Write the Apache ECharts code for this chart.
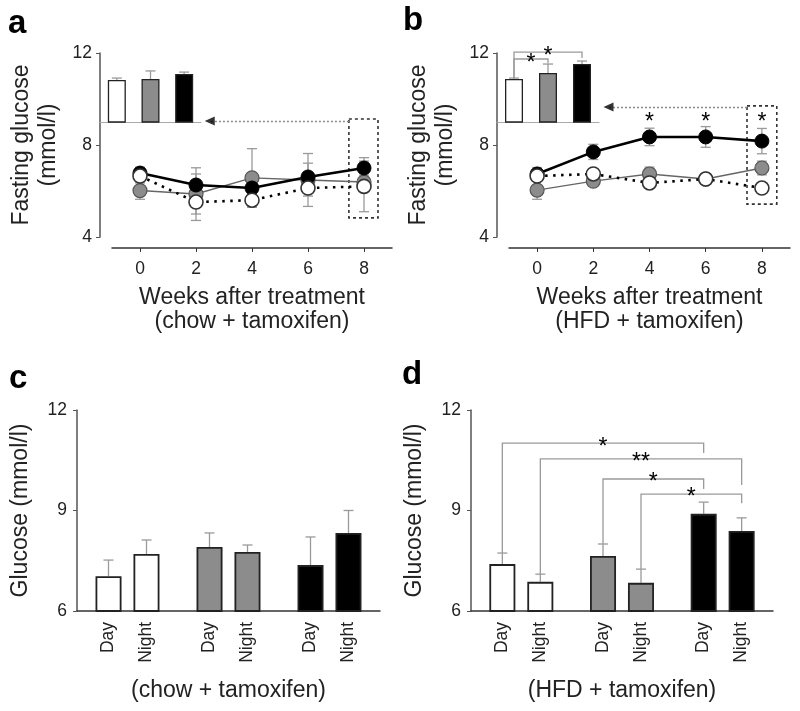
<!DOCTYPE html>
<html><head><meta charset="utf-8">
<script src="https://cdn.jsdelivr.net/npm/echarts@6/dist/echarts.min.js"></script>
<style>html,body{margin:0;padding:0;background:#fff}#c{width:800px;height:711px}</style>
</head><body><div id="c"></div>
<script>
// ---------- data ----------
const weeks = [0, 2, 4, 6, 8];
// panel a (chow + tamoxifen): fasting glucose, mmol/l
const aBlack = [6.78, 6.26, 6.13, 6.61, 7.00];
const aBlackErr = [0.25, 0.75, 0.30, 0.60, 0.45];
const aGray = [6.02, 5.87, 6.57, 6.48, 6.39];
const aGrayErr = [0.38, 0.87, 1.27, 1.15, 0.30];
const aWhite = [6.65, 5.52, 5.60, 6.13, 6.20];
const aWhiteErr = [0.30, 0.80, 0.30, 0.35, 1.10];
const aInset = [10.83, 10.87, 11.09];
const aInsetErr = [0.08, 0.35, 0.08];
// panel b (HFD + tamoxifen)
const bBlack = [6.74, 7.70, 8.35, 8.35, 8.17];
const bBlackErr = [0.28, 0.33, 0.38, 0.45, 0.55];
const bGray = [6.04, 6.43, 6.74, 6.52, 7.00];
const bGrayErr = [0.40, 0.20, 0.30, 0.20, 0.30];
const bWhite = [6.65, 6.74, 6.35, 6.52, 6.13];
const bWhiteErr = [0.20, 0.20, 0.20, 0.20, 0.20];
const bInset = [10.87, 11.13, 11.52];
const bInsetErr = [0.04, 0.39, 0.13];
const bStarWeeks = [4, 6, 8];
const bStarLevel = 9.17;
const bInsetSigTo = [1, 2];
const bInsetSigLevel = [11.74, 12.04];
const bInsetSigRight = [11.55, 11.78];
const bInsetSigLabel = ['*', '*'];
// panels c / d: day & night glucose
const groups = ['1', '2', '3'];
const periods = ['Day', 'Night'];
const cDay = [7.04, 7.91, 7.37];
const cDayErr = [0.48, 0.42, 0.84];
const cNight = [7.70, 7.76, 8.33];
const cNightErr = [0.42, 0.21, 0.67];
const dDay = [7.40, 7.64, 8.90];
const dDayErr = [0.33, 0.36, 0.35];
const dNight = [6.87, 6.84, 8.39];
const dNightErr = [0.23, 0.41, 0.39];
const dSigFrom = [[0, 0], [0, 1], [1, 0], [1, 1]];
const dSigTo = [[2, 0], [2, 1], [2, 0], [2, 1]];
const dSigLevel = [11.01, 10.54, 9.94, 9.49];
const dSigRight = [10.72, 9.76, 9.64, 9.22];
const dSigLabel = ['*', '**', '*', '*'];

// ---------- styles ----------
const FONT = '"Liberation Sans", Arial, Helvetica, sans-serif';
const FILL = ['#ffffff', '#8c8c8c', '#000000'];
const EDGE = '#222';
const ERR = '#9a9a9a';
const OFF = 19, BARW = 26, CAP = 5;

function errRender(upOnly, side) {
  return function (params, api) {
    const x = api.value(0), y = api.value(1), e = api.value(2);
    let hi = api.coord([x, y + e]);
    let lo = api.coord([x, upOnly ? y : y - e]);
    const dx = side ? side * OFF : 0;
    const cx = hi[0] + dx;
    const st = { stroke: ERR, lineWidth: 1.3 };
    const ch = [
      { type: 'line', shape: { x1: cx, y1: hi[1], x2: cx, y2: lo[1] }, style: st },
      { type: 'line', shape: { x1: cx - CAP, y1: hi[1], x2: cx + CAP, y2: hi[1] }, style: st }
    ];
    if (!upOnly) ch.push({ type: 'line', shape: { x1: cx - CAP, y1: lo[1], x2: cx + CAP, y2: lo[1] }, style: st });
    return { type: 'group', children: ch };
  };
}
function zip3(a, b, c) { return a.map((v, i) => [v, b[i], c[i]]); }
function errSeries(xi, yi, xs, vals, errs, upOnly, side) {
  return { type: 'custom', xAxisIndex: xi, yAxisIndex: yi, z: 1, silent: true,
    renderItem: errRender(upOnly, side), data: zip3(xs, vals, errs) };
}
function lineSeries(xi, yi, vals, kind) {
  const base = { type: 'line', xAxisIndex: xi, yAxisIndex: yi, symbol: 'circle', symbolSize: 14,
    data: weeks.map((w, i) => [w, vals[i]]), z: 3, silent: true };
  if (kind === 'black') {
    base.lineStyle = { color: '#000', width: 2.6 };
    base.itemStyle = { color: '#000', borderColor: '#000', borderWidth: 1 };
  } else if (kind === 'gray') {
    base.lineStyle = { color: '#666', width: 1.4 };
    base.itemStyle = { color: FILL[1], borderColor: '#555', borderWidth: 1.2 };
  } else {
    base.lineStyle = { color: '#000', width: 2.6, type: [2.5, 5.5] };
    base.itemStyle = { color: '#fff', borderColor: '#333', borderWidth: 1.6 };
    base.z = 4;
  }
  return base;
}
function insetBars(xi, yi, vals) {
  return { type: 'bar', xAxisIndex: xi, yAxisIndex: yi, barWidth: 18, silent: true, z: 2,
    data: vals.map((v, i) => ({ value: v, itemStyle: { color: FILL[i], borderColor: EDGE, borderWidth: 1.3 } })) };
}
function dnBars(xi, yi, vals, p) {
  return { type: 'bar', xAxisIndex: xi, yAxisIndex: yi, barWidth: BARW, barGap: '46%', silent: true, z: 2,
    name: periods[p],
    data: vals.map((v, i) => ({ value: v, itemStyle: { color: FILL[i], borderColor: EDGE, borderWidth: 1.8 } })) };
}
function dnLabels(xi, yi, p) {
  return { type: 'custom', xAxisIndex: xi, yAxisIndex: yi, silent: true,
    data: groups.map((g, i) => [i, 6]),
    renderItem: (params, api) => {
      const c = api.coord([api.value(0), 6]);
      return { type: 'text', x: c[0] + (p ? OFF : -OFF), y: c[1] + 11, rotation: Math.PI / 2,
        style: { text: periods[p], font: '17.5px ' + FONT, fill: '#222', align: 'right', verticalAlign: 'middle' } };
    } };
}
function starText(x, y, label) {
  return { type: 'text', x: x, y: y + 5,
    style: { text: label, font: '23px ' + FONT, fill: '#000', align: 'center', verticalAlign: 'middle' } };
}
const dVals = [dDay, dNight], dErrs = [dDayErr, dNightErr];

function lineXAxis(gi, name) {
  return { gridIndex: gi, type: 'value', min: -1, max: 9, offset: 11,
    axisLine: { show: true, onZero: false, lineStyle: { color: '#333', width: 1.5 } },
    axisTick: { show: true, customValues: weeks, length: 4, lineStyle: { color: '#333' } },
    axisLabel: { customValues: weeks, fontSize: 17.5, color: '#222', margin: 12, fontFamily: FONT },
    splitLine: { show: false },
    name: name, nameLocation: 'middle', nameGap: 38,
    nameTextStyle: { fontSize: 23, lineHeight: 24, color: '#222', fontFamily: FONT } };
}
function lineYAxis(gi) {
  return { gridIndex: gi, type: 'value', min: 4, max: 12, interval: 4, offset: 12,
    axisLine: { show: true, onZero: false, lineStyle: { color: '#555', width: 1.5 } },
    axisTick: { show: true, length: 4, lineStyle: { color: '#555' } },
    axisLabel: { fontSize: 17.5, color: '#222', margin: 8, fontFamily: FONT },
    splitLine: { show: false },
    name: 'Fasting glucose\n(mmol/l)', nameLocation: 'middle', nameRotate: 90, nameGap: 38,
    nameTextStyle: { fontSize: 23, lineHeight: 27, color: '#222', fontFamily: FONT } };
}
function insetXAxis(gi) {
  return { gridIndex: gi, type: 'category', data: groups,
    axisLine: { show: true, onZero: false, lineStyle: { color: '#aaa', width: 1.2 } },
    axisTick: { show: false }, axisLabel: { show: false } };
}
function insetYAxis(gi) {
  return { gridIndex: gi, type: 'value', min: 9, max: 12, show: false };
}
function barXAxis(gi, name) {
  return { gridIndex: gi, type: 'category', data: groups,
    axisLine: { show: true, onZero: false, lineStyle: { color: '#333', width: 1.5 } },
    axisTick: { show: false }, axisLabel: { show: false },
    name: name, nameLocation: 'middle', nameGap: 68,
    nameTextStyle: { fontSize: 23, color: '#222', fontFamily: FONT } };
}
function barYAxis(gi) {
  return { gridIndex: gi, type: 'value', min: 6, max: 12, interval: 3,
    axisLine: { show: true, onZero: false, lineStyle: { color: '#555', width: 1.5 } },
    axisTick: { show: true, length: 4, lineStyle: { color: '#555' } },
    axisLabel: { fontSize: 17.5, color: '#222', margin: 10, fontFamily: FONT },
    splitLine: { show: false },
    name: 'Glucose (mmol/l)', nameLocation: 'middle', nameRotate: 90, nameGap: 45,
    nameTextStyle: { fontSize: 23, color: '#222', fontFamily: FONT } };
}
function boxAndArrow(xi, yi, box, arrowY, tipX) {
  return { type: 'line', xAxisIndex: xi, yAxisIndex: yi, data: [], silent: true, symbol: 'none',
    markArea: { silent: true, itemStyle: { color: 'rgba(0,0,0,0)', borderColor: '#333', borderWidth: 1.6, borderType: [3, 3] },
      data: [[{ coord: [box[0], box[3]] }, { coord: [box[1], box[2]] }]] },
    markLine: { silent: true, symbol: ['none', 'none'], label: { show: false }, animation: false,
      lineStyle: { color: '#888', width: 1.3, type: [2, 2] },
      data: [[{ coord: [box[0], arrowY] }, { coord: [tipX + 0.2, arrowY] }]] } };
}
function arrowHead(xi, yi, arrowY, tipX) {
  return { type: 'scatter', xAxisIndex: xi, yAxisIndex: yi, silent: true, z: 5,
    symbol: 'triangle', symbolSize: [9, 10], symbolRotate: 90, symbolOffset: [0, 0],
    itemStyle: { color: '#000' },
    data: [[tipX + 0.17, arrowY]] };
}

const option = {
  animation: false,
  textStyle: { fontFamily: FONT },
  grid: [
    { left: 112, top: 53, width: 280, height: 184 },
    { left: 100, top: 53, width: 101, height: 69 },
    { left: 509, top: 53, width: 281, height: 184 },
    { left: 497, top: 53, width: 102, height: 69 },
    { left: 77, top: 410, width: 303, height: 201 },
    { left: 471, top: 410, width: 302, height: 201 }
  ],
  xAxis: [
    lineXAxis(0, 'Weeks after treatment\n(chow + tamoxifen)'),
    insetXAxis(1),
    lineXAxis(2, 'Weeks after treatment\n(HFD + tamoxifen)'),
    insetXAxis(3),
    barXAxis(4, '(chow + tamoxifen)'),
    barXAxis(5, '(HFD + tamoxifen)')
  ],
  yAxis: [lineYAxis(0), insetYAxis(1), lineYAxis(2), insetYAxis(3), barYAxis(4), barYAxis(5)],
  graphic: [
    { type: 'text', left: 8, top: 7, style: { text: 'a', font: 'bold 33px ' + FONT, fill: '#000' } },
    { type: 'text', left: 403, top: 4, style: { text: 'b', font: 'bold 33px ' + FONT, fill: '#000' } },
    { type: 'text', left: 9, top: 362, style: { text: 'c', font: 'bold 33px ' + FONT, fill: '#000' } },
    { type: 'text', left: 402, top: 358, style: { text: 'd', font: 'bold 33px ' + FONT, fill: '#000' } }
  ],
  series: [
    // panel a
    boxAndArrow(0, 0, [7.46, 8.5, 4.83, 9.13], 9.04, 2.32),
    arrowHead(0, 0, 9.04, 2.32),
    errSeries(0, 0, weeks, aGray, aGrayErr),
    errSeries(0, 0, weeks, aBlack, aBlackErr),
    errSeries(0, 0, weeks, aWhite, aWhiteErr),
    lineSeries(0, 0, aGray, 'gray'),
    lineSeries(0, 0, aBlack, 'black'),
    lineSeries(0, 0, aWhite, 'white'),
    insetBars(1, 1, aInset),
    errSeries(1, 1, [0, 1, 2], aInset, aInsetErr, true),
    // panel b
    boxAndArrow(2, 2, [7.47, 8.53, 5.43, 9.7], 9.65, 2.37),
    arrowHead(2, 2, 9.65, 2.37),
    errSeries(2, 2, weeks, bGray, bGrayErr),
    errSeries(2, 2, weeks, bBlack, bBlackErr),
    errSeries(2, 2, weeks, bWhite, bWhiteErr),
    lineSeries(2, 2, bGray, 'gray'),
    lineSeries(2, 2, bBlack, 'black'),
    lineSeries(2, 2, bWhite, 'white'),
    { type: 'custom', xAxisIndex: 2, yAxisIndex: 2, silent: true, z: 5,
      data: bStarWeeks.map(w => [w, bStarLevel]),
      renderItem: (params, api) => { const c = api.coord([api.value(0), api.value(1)]); return starText(c[0], c[1], '*'); } },
    insetBars(3, 3, bInset),
    errSeries(3, 3, [0, 1, 2], bInset, bInsetErr, true),
    { type: 'custom', xAxisIndex: 3, yAxisIndex: 3, silent: true, z: 5, clip: false,
      data: bInsetSigTo.map((t, i) => [t, bInsetSigLevel[i]]),
      renderItem: (params, api) => {
        const i = params.dataIndex, t = bInsetSigTo[i];
        const x1 = api.coord([0, 10])[0], x2 = api.coord([t, 10])[0];
        const yl = api.coord([0, bInset[0] + bInsetErr[0]])[1];
        const yL = api.coord([0, bInsetSigLevel[i]])[1];
        const yr = api.coord([0, bInsetSigRight[i]])[1];
        return { type: 'group', children: [
          { type: 'polyline', shape: { points: [[x1, yl], [x1, yL], [x2, yL], [x2, yr]] }, style: { stroke: ERR, lineWidth: 1.3, fill: null } },
          starText((x1 + x2) / 2, yL, bInsetSigLabel[i])
        ] };
      } },
    // panel c
    dnBars(4, 4, cDay, 0),
    dnBars(4, 4, cNight, 1),
    errSeries(4, 4, [0, 1, 2], cDay, cDayErr, true, -1),
    errSeries(4, 4, [0, 1, 2], cNight, cNightErr, true, 1),
    dnLabels(4, 4, 0),
    dnLabels(4, 4, 1),
    // panel d
    dnBars(5, 5, dDay, 0),
    dnBars(5, 5, dNight, 1),
    errSeries(5, 5, [0, 1, 2], dDay, dDayErr, true, -1),
    errSeries(5, 5, [0, 1, 2], dNight, dNightErr, true, 1),
    dnLabels(5, 5, 0),
    dnLabels(5, 5, 1),
    { type: 'custom', xAxisIndex: 5, yAxisIndex: 5, silent: true, z: 5, clip: false,
      data: dSigLevel.map((v, i) => [dSigFrom[i][0], v]),
      renderItem: (params, api) => {
        const i = params.dataIndex;
        const [g1, p1] = dSigFrom[i], [g2, p2] = dSigTo[i];
        const x1 = api.coord([g1, 7])[0] + (p1 ? OFF : -OFF);
        const x2 = api.coord([g2, 7])[0] + (p2 ? OFF : -OFF);
        const yl = api.coord([g1, dVals[p1][g1] + dErrs[p1][g1]])[1];
        const yL = api.coord([g1, dSigLevel[i]])[1];
        const yr = api.coord([g1, dSigRight[i]])[1];
        return { type: 'group', children: [
          { type: 'polyline', shape: { points: [[x1, yl], [x1, yL], [x2, yL], [x2, yr]] }, style: { stroke: ERR, lineWidth: 1.3, fill: null } },
          starText((x1 + x2) / 2, yL - 1, dSigLabel[i])
        ] };
      } }
  ]
};
const chart = echarts.init(document.getElementById('c'), null, { renderer: 'canvas' });
chart.setOption(option);
</script>
</body></html>
